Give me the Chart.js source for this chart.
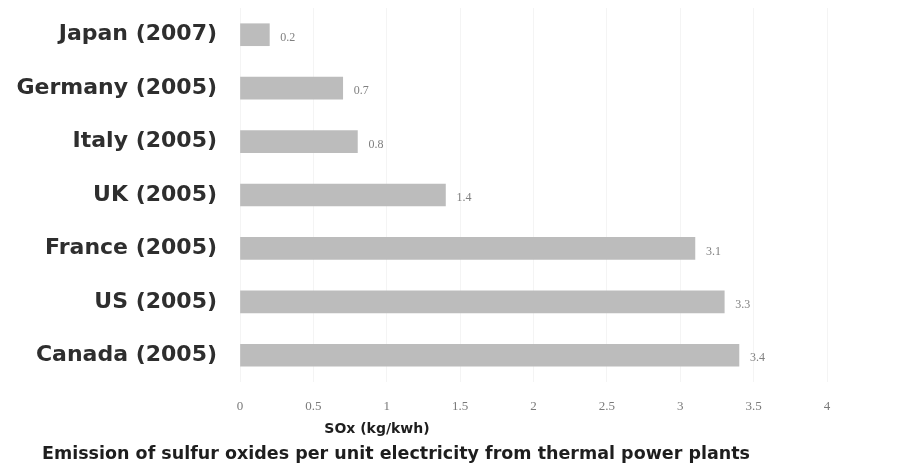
<!DOCTYPE html>
<html>
<head>
<meta charset="utf-8">
<script src="https://cdn.jsdelivr.net/npm/chart.js@4/dist/chart.umd.min.js"></script>
<style>
  html, body { margin: 0; padding: 0; background: #fff; }
  #wrap { width: 907px; height: 473px; }
</style>
</head>
<body>
<div id="wrap"><canvas id="chart" width="907" height="473"></canvas></div>
<script>
const countries = [
  "Japan (2007)",
  "Germany (2005)",
  "Italy (2005)",
  "UK (2005)",
  "France (2005)",
  "US (2005)",
  "Canada (2005)",
];
const soxValues = [0.2, 0.7, 0.8, 1.4, 3.1, 3.3, 3.4];
const xTicks = [0, 0.5, 1, 1.5, 2, 2.5, 3, 3.5, 4];
const axisTitle = "SOx (kg/kwh)";
const caption = "Emission of sulfur oxides per unit electricity from thermal power plants";

// etiquetas de valor ao lado das barras + título do eixo e legenda
const extrasPlugin = {
  id: "extras",
  afterDatasetsDraw(chart) {
    const ctx = chart.ctx;
    const meta = chart.getDatasetMeta(0);
    ctx.save();
    ctx.font = "12px 'Liberation Serif'";
    ctx.fillStyle = "#808080";
    ctx.textBaseline = "middle";
    meta.data.forEach((bar, i) => {
      ctx.fillText(String(soxValues[i]), bar.x + 11, bar.y + 3);
    });

    const area = chart.chartArea;
    ctx.fillStyle = "#1e1e1e";
    ctx.textAlign = "center";
    ctx.font = "bold 14px 'DejaVu Sans'";
    ctx.fillText(axisTitle, 377, area.bottom + 47);
    ctx.font = "bold 17.5px 'DejaVu Sans'";
    ctx.fillText(caption, 396, area.bottom + 72);
    ctx.restore();
  },
};

const ctx = document.getElementById("chart").getContext("2d");
new Chart(ctx, {
  type: "bar",
  data: {
    labels: countries,
    datasets: [
      {
        data: soxValues,
        backgroundColor: "#bcbcbc",
        borderWidth: 0,
        barThickness: 22,
      },
    ],
  },
  options: {
    indexAxis: "y",
    responsive: false,
    animation: false,
    layout: { padding: { top: 8, right: 80, left: 0, bottom: 0 } },
    plugins: {
      legend: { display: false },
      tooltip: { enabled: false },
    },
    scales: {
      x: {
        min: 0,
        max: 4,
        afterBuildTicks: (scale) => {
          scale.ticks = xTicks.map((v) => ({ value: v }));
        },
        afterFit: (scale) => {
          scale.height = 91;
          scale.paddingLeft = 0;
          scale.paddingRight = 0;
        },
        grid: { color: "#f4f4f4", drawTicks: false },
        border: { display: false },
        ticks: {
          padding: 17,
          color: "#7a7a7a",
          font: { family: "'Liberation Serif'", size: 13 },
          callback: (v) => String(v),
        },
      },
      y: {
        afterFit: (scale) => {
          scale.width = 240;
          scale.paddingTop = 0;
          scale.paddingBottom = 0;
        },
        grid: { display: false },
        border: { display: false },
        ticks: {
          padding: 15,
          color: "#2e2e2e",
          font: { family: "'DejaVu Sans'", size: 22, weight: "bold" },
        },
      },
    },
  },
  plugins: [extrasPlugin],
});
</script>
</body>
</html>
